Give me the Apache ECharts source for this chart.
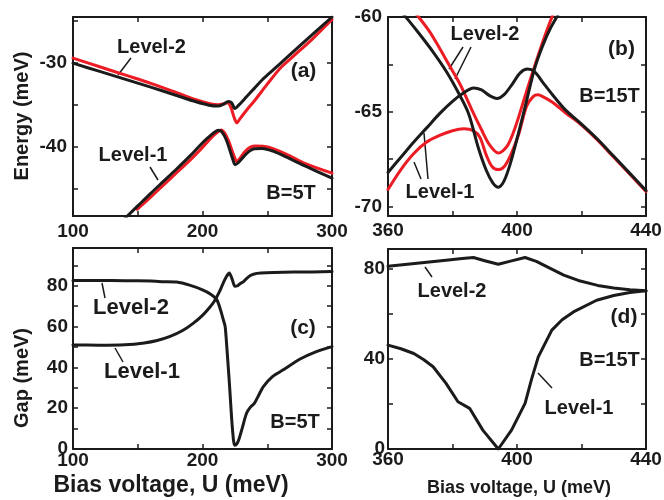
<!DOCTYPE html>
<html>
<head>
<meta charset="utf-8">
<script src="https://cdn.jsdelivr.net/npm/echarts@6/dist/echarts.min.js"></script>
<style>html,body{margin:0;padding:0;background:#fff;}#c{width:664px;height:500px;}</style>
</head>
<body>
<div id="c"></div>
<script>
// ---------- Panel (a): B=5T energies ----------
const aU_L2k = [100,120,140,160,180,195,205,212,216,220,222.5,225,228,234,240,246,255,265,280,300];
const aE_L2k = [-30.0,-30.95,-31.9,-32.85,-33.85,-34.6,-35.0,-35.1,-34.9,-34.55,-34.7,-35.4,-35.0,-34.0,-33.0,-32.0,-30.75,-29.35,-27.25,-24.5];
const aU_L2r = [100,120,140,160,180,195,205,212,216,219.5,222,224.5,226.4,229,234,240,250,260,270,285,300];
const aE_L2r = [-29.4,-30.4,-31.4,-32.4,-33.5,-34.35,-34.8,-34.95,-34.85,-34.7,-35.3,-36.5,-37.1,-36.6,-35.6,-34.5,-32.5,-30.6,-29.2,-27.1,-24.8];
const aU_L1k = [140,150,160,170,180,190,198,204,209,212.5,215,218,221,223.5,225.2,228,232,236,240,246,255,265,280,300];
const aE_L1k = [-48.5,-47.0,-45.5,-44.05,-42.6,-41.1,-39.8,-38.9,-38.25,-38.0,-38.2,-39.0,-40.3,-41.5,-42.1,-41.8,-41.1,-40.5,-40.2,-40.15,-40.5,-41.2,-42.3,-43.7];
const aU_L1r = [149.5,160,170,180,190,198,204,209,212.5,214.5,217,220,223,225,226.6,229,233,237,241,247,255,265,280,300];
const aE_L1r = [-47.4,-45.95,-44.5,-43.05,-41.6,-40.35,-39.35,-38.55,-38.1,-37.95,-38.3,-39.2,-40.5,-41.3,-41.75,-41.3,-40.5,-40.0,-39.85,-39.9,-40.2,-40.85,-42.0,-43.1];

// ---------- Panel (b): B=15T energies ----------
const bU_Vk = [362,366,370,374,378,382,385,388,390.5,392.5,394.2,396,398,400.5,403,405.5,408,410.5,413,415];
const bE_Vk = [-59.3,-60.1,-60.95,-61.85,-62.85,-64.05,-65.1,-66.9,-68.1,-68.75,-68.98,-68.65,-67.7,-66.1,-64.4,-62.7,-61.5,-60.55,-59.8,-59.2];
const bU_Vr = [366,369.5,373,376,379,382.5,386,389,391.5,394.2,397,399.5,402,404.5,407,409.5,412,414];
const bE_Vr = [-59.3,-60.0,-60.8,-61.65,-62.55,-63.6,-64.9,-65.95,-66.75,-67.18,-66.8,-65.8,-64.45,-63.1,-61.8,-60.6,-59.5,-58.7];
const bU_Wr = [360,364,368,372,376,380,383.5,386.5,388.5,390.5,392.3,394.2,396,398,400.5,403,405,406.5,408,411,415,420,425,430,435,440];
const bE_Wr = [-69.1,-68.05,-67.2,-66.6,-66.25,-66.0,-65.9,-66.0,-66.35,-67.3,-67.9,-68.05,-67.9,-67.3,-66.2,-64.7,-64.2,-64.1,-64.2,-64.5,-65.05,-65.7,-66.5,-67.4,-68.3,-69.2];
const bU_Wk = [360,364,368,372,376,380,383.5,386.5,389,391.5,393.8,396,398.5,401,403.3,405.5,408,411,415,420,425,430,435,440];
const bE_Wk = [-68.2,-67.4,-66.6,-65.85,-65.1,-64.45,-64.0,-63.75,-63.85,-64.15,-64.3,-64.1,-63.55,-62.95,-62.75,-62.9,-63.45,-64.1,-64.9,-65.65,-66.45,-67.35,-68.25,-69.15];

// ---------- Panel (c): B=5T gaps ----------
const cU_L2 = [100,120,140,160,170,180,190,200,206,211,214,216,217.5,219,221,222.5,224,225,226.5,228,231,234,237,240,243.5,247,254,262.4,275,287,300];
const cG_L2 = [82.6,82.6,82.5,82.3,82.0,81.8,80.3,78.0,76.0,73.2,68.0,63.5,60.0,48.0,30.0,15.0,4.0,1.8,2.5,4.5,11.0,17.5,20.5,22.4,26.5,30.6,35.5,38.8,44.0,47.5,50.2];
const cU_L1 = [100,120,140,155,165,175,185,193,200,205,209,213,216,218.5,220.7,223,225,227,229,231.5,234,237,240,245,255,270,285,300];
const cG_L1 = [51.0,50.9,51.1,52.0,53.2,55.2,58.2,61.7,65.5,69.0,72.3,77.0,81.3,84.5,86.2,83.0,79.7,80.0,81.0,81.9,83.5,85.0,85.8,86.2,86.5,86.7,86.8,87.0];

// ---------- Panel (d): B=15T gaps ----------
const dU_L2 = [360,366,372,378,383,386.5,390,394.2,398,402.5,406,410,414.5,419,425,430,435,440];
const dG_L2 = [81.3,82.2,83.1,84.0,84.8,85.2,83.8,82.2,83.6,85.2,83.5,80.6,77.4,75.0,72.8,71.6,70.9,70.4];
const dU_L1 = [360,364,368,371,374,378,381.7,385.3,389.4,394.2,398.3,402.5,404.5,406.6,410.8,414,417.5,424.7,430,435,440];
const dG_L1 = [46.2,44.6,42.5,39.8,36.6,29.2,21.0,18.1,8.4,0.0,8.4,20.3,31.0,41.0,52.9,57.5,61.0,66.2,68.3,69.6,70.4];

// ---------- Tick values ----------
const xTicksAC = [100,150,200,250,300];
const xLabelsAC = [100,200,300];
const xTicksBD = [360,380,400,420,440];
const xLabelsBD = [360,400,440];
const yTicksA = [-45,-40,-35,-30,-25];
const yLabelsA = [-40,-30];
const yTicksB = [-70,-67.5,-65,-62.5,-60];
const yLabelsB = [-70,-65,-60];
const yTicksC = [0,10,20,30,40,50,60,70,80,90];
const yLabelsC = [0,20,40,60,80];
const yTicksD = [0,20,40,60,80];
const yLabelsD = [0,40,80];

const INK = '#1b1b1b';
const RED = '#ec1c24';
const FF = '"Liberation Sans", Arial, sans-serif';

function pairs(xs, ys){ return xs.map((x,i)=>[x, ys[i]]); }

function xAx(g, min, max, ticks, labels, margin, pos){
  return {type:'value', gridIndex:g, min:min, max:max, position:pos,
    axisLine:{show:true, onZero:false, lineStyle:{color:INK, width:2}},
    axisTick:{show:true, inside:true, length:5, customValues:ticks, lineStyle:{color:INK, width:1.5}},
    axisLabel:{show:pos==='bottom', customValues:labels, margin:margin, fontFamily:FF, fontWeight:'bold', fontSize:19, color:INK},
    splitLine:{show:false}, axisPointer:{show:false}};
}
function yAx(g, min, max, ticks, labels, margin, pos){
  return {type:'value', gridIndex:g, min:min, max:max, position:pos,
    axisLine:{show:true, onZero:false, lineStyle:{color:INK, width:2}},
    axisTick:{show:true, inside:true, length:5, customValues:ticks, lineStyle:{color:INK, width:1.5}},
    axisLabel:{show:pos==='left', customValues:labels, margin:margin, fontFamily:FF, fontWeight:'bold', fontSize:19, color:INK},
    splitLine:{show:false}, axisPointer:{show:false}};
}

function ser(xi, yi, xs, ys, color, smooth){
  return {type:'line', xAxisIndex:xi, yAxisIndex:yi, data:pairs(xs, ys), showSymbol:false, symbol:'none',
    smooth:smooth, clip:true, silent:true,
    lineStyle:{color:color, width:3, join:'round', cap:'round'}, itemStyle:{color:color}, animation:false};
}

function txt(s, x, y, size, rot){
  const e = {type:'text', x:x, y:y, silent:true,
    style:{text:s, font:'bold '+size+'px '+FF, fill:INK, align:'center', verticalAlign:'middle'}};
  if (rot) e.rotation = rot;
  return e;
}
function ln(x1,y1,x2,y2){
  return {type:'line', silent:true, shape:{x1:x1,y1:y1,x2:x2,y2:y2}, style:{stroke:INK, lineWidth:1.5}};
}

const chart = echarts.init(document.getElementById('c'), null, {renderer:'canvas', width:664, height:500});
const option = {
  animation:false,
  backgroundColor:'#ffffff',
  grid:[
    {left:73, top:17, width:259, height:199, containLabel:false, outerBoundsMode:'none'},
    {left:388, top:17, width:258, height:199, containLabel:false, outerBoundsMode:'none'},
    {left:73, top:248, width:259, height:201, containLabel:false, outerBoundsMode:'none'},
    {left:388, top:249, width:258, height:200, containLabel:false, outerBoundsMode:'none'}
  ],
  xAxis:[
    xAx(0,100,300,xTicksAC,xLabelsAC,6,'bottom'), xAx(0,100,300,xTicksAC,xLabelsAC,6,'top'),
    xAx(1,360,440,xTicksBD,xLabelsBD,5,'bottom'), xAx(1,360,440,xTicksBD,xLabelsBD,5,'top'),
    xAx(2,100,300,xTicksAC,xLabelsAC,2,'bottom'), xAx(2,100,300,xTicksAC,xLabelsAC,2,'top'),
    xAx(3,360,440,xTicksBD,xLabelsBD,1,'bottom'), xAx(3,360,440,xTicksBD,xLabelsBD,1,'top')
  ],
  yAxis:[
    yAx(0,-48.2,-24.5,yTicksA,yLabelsA,6,'left'), yAx(0,-48.2,-24.5,yTicksA,yLabelsA,6,'right'),
    yAx(1,-70.5,-60,yTicksB,yLabelsB,6,'left'), yAx(1,-70.5,-60,yTicksB,yLabelsB,6,'right'),
    yAx(2,0,98.5,yTicksC,yLabelsC,5,'left'), yAx(2,0,98.5,yTicksC,yLabelsC,5,'right'),
    yAx(3,0,89,yTicksD,yLabelsD,3,'left'), yAx(3,0,89,yTicksD,yLabelsD,3,'right')
  ],
  series:[
    ser(0,0,aU_L2r,aE_L2r,RED,0.3), ser(0,0,aU_L1r,aE_L1r,RED,0.3),
    ser(0,0,aU_L2k,aE_L2k,INK,0.3), ser(0,0,aU_L1k,aE_L1k,INK,0.3),
    ser(2,2,bU_Vr,bE_Vr,RED,0.3), ser(2,2,bU_Wr,bE_Wr,RED,0.3),
    ser(2,2,bU_Vk,bE_Vk,INK,0.3), ser(2,2,bU_Wk,bE_Wk,INK,0.3),
    ser(4,4,cU_L2,cG_L2,INK,0.25), ser(4,4,cU_L1,cG_L1,INK,0.25),
    ser(6,6,dU_L2,dG_L2,INK,false), ser(6,6,dU_L1,dG_L1,INK,false)
  ],
  graphic:[
    txt('Energy (meV)', 22, 116, 20, Math.PI/2),
    txt('Gap (meV)', 22, 378, 20, Math.PI/2),
    txt('Bias voltage, U (meV)', 171, 486, 23),
    txt('Bias voltage, U (meV)', 519, 488, 18),
    txt('Level-2', 151.5, 47, 20), ln(131,58,118,75),
    txt('Level-1', 133, 155, 20), ln(150,167,158,180),
    txt('(a)', 303.5, 71.5, 21),
    txt('B=5T', 291, 193.5, 20),
    txt('Level-2', 485, 34, 20), ln(463,47,449,69), ln(471,47,455,79),
    txt('(b)', 621.5, 49, 21),
    txt('B=15T', 609.5, 96.5, 20),
    txt('Level-1', 440, 192.5, 20), ln(421,179,414,162), ln(428,179,424,133),
    txt('Level-2', 131, 307.5, 22), ln(102,283,105,298),
    txt('Level-1', 142, 371.5, 22), ln(115,348,123,362),
    txt('(c)', 303, 328.5, 21),
    txt('B=5T', 295, 422.5, 20),
    txt('Level-2', 452, 291.5, 20), ln(425,267,432,277),
    txt('Level-1', 579, 408.5, 20), ln(538,373,552,388),
    txt('(d)', 624, 317.5, 21),
    txt('B=15T', 609.5, 360.5, 20)
  ]
};
chart.setOption(option);
</script>
</body>
</html>
